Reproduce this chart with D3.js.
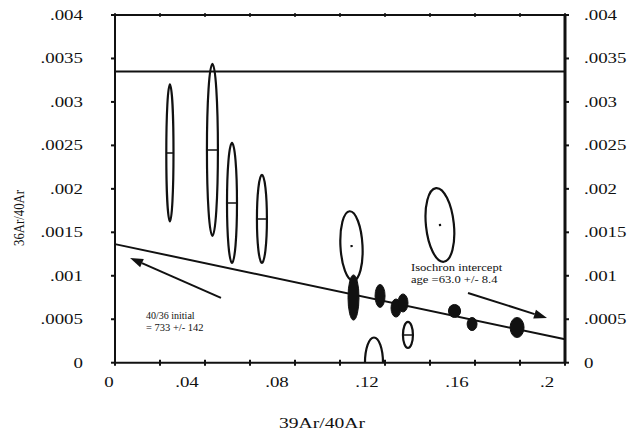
<!DOCTYPE html>
<html>
<head>
<meta charset="utf-8">
<script src="https://cdn.jsdelivr.net/npm/d3@7"></script>
<style>
  html, body { margin: 0; padding: 0; background: #fff; }
  svg { display: block; }
  text { font-family: "Liberation Serif", "Times New Roman", serif; fill: #111; }
</style>
</head>
<body>
<svg id="chart" width="641" height="440"></svg>
<script>
// Axis ticks and labels
const xTickValues = [0, 0.02, 0.04, 0.06, 0.08, 0.10, 0.12, 0.14, 0.16, 0.18, 0.20];
const xLabelValues = [0, 0.04, 0.08, 0.12, 0.16, 0.2];
const xLabelText = ["0", ".04", ".08", ".12", ".16", ".2"];
const yTickValues = [0, 0.0005, 0.001, 0.0015, 0.002, 0.0025, 0.003, 0.0035, 0.004];
const yLabelText = ["0", ".0005", ".001", ".0015", ".002", ".0025", ".003", ".0035", ".004"];

// Open error ellipses: centre (39Ar/40Ar, 36Ar/40Ar), half-widths, tilt in degrees
const openX    = [0.0244, 0.0433, 0.0520, 0.0653, 0.1051, 0.1444, 0.1302, 0.1151];
const openY    = [0.002413, 0.002448, 0.001838, 0.001654, 0.001343, 0.001585, 0.000319, 0.0000];
const openRx   = [0.00160, 0.00244, 0.00222, 0.00222, 0.00490, 0.00620, 0.00222, 0.00400];
const openRy   = [0.000788, 0.000990, 0.000690, 0.000506, 0.000400, 0.000426, 0.000150, 0.000290];
const openTilt = [0, 0, 0, 0, -3, -6, 0, 0];

// Filled error ellipses (steps on the isochron)
const solidX  = [0.1060, 0.1178, 0.1249, 0.1280, 0.1509, 0.1587, 0.1787];
const solidY  = [0.000750, 0.000768, 0.000629, 0.000687, 0.000595, 0.000445, 0.000405];
const solidRx = [0.00244, 0.00222, 0.00222, 0.00222, 0.00270, 0.00220, 0.00310];
const solidRy = [0.000260, 0.000132, 0.000104, 0.000104, 0.000075, 0.000075, 0.000115];

// Atmospheric 36Ar/40Ar reference level
const atmLevel = [0.00335];

// Isochron: 40/36 initial = 733 gives the y-intercept; x-intercept from the age
const isoYIntercept = [1 / 733];
const isoXIntercept = [0.2492];

// Annotation arrows (tail -> head) in data units
const arrowTail = [[0.0471, 0.000745], [0.1569, 0.000802]];
const arrowHead = [[0.0067, 0.001205], [0.1920, 0.000514]];

const svg = d3.select("#chart");
const plotLeft = 115, plotRight = 565, plotTop = 15, plotBottom = 362.7;

const x = d3.scaleLinear().domain([0, 0.2]).range([plotLeft, plotRight]);
const y = d3.scaleLinear().domain([0, 0.004]).range([plotBottom, plotTop]);

svg.append("defs").append("clipPath").attr("id", "plotClip")
  .append("rect").attr("x", plotLeft).attr("y", plotTop)
  .attr("width", plotRight - plotLeft).attr("height", plotBottom - plotTop);

// Text is set slightly wide, as in the original typeset figure
function wideText(g, px, py, str, size, anchor, sx) {
  return g.append("text")
    .attr("transform", `translate(${px},${py}) scale(${sx || 1.35},1)`)
    .attr("font-size", size)
    .attr("text-anchor", anchor || "start")
    .text(str);
}

// Atmospheric line
svg.append("line")
  .attr("x1", x(0)).attr("x2", x(0.2))
  .attr("y1", y(atmLevel[0])).attr("y2", y(atmLevel[0]))
  .attr("stroke", "#111").attr("stroke-width", 2);

// Isochron line
const slope = -isoYIntercept[0] / isoXIntercept[0];
svg.append("line")
  .attr("x1", x(0)).attr("y1", y(isoYIntercept[0]))
  .attr("x2", x(0.2)).attr("y2", y(isoYIntercept[0] + slope * 0.2))
  .attr("stroke", "#111").attr("stroke-width", 2);

const plot = svg.append("g").attr("clip-path", "url(#plotClip)");

const openData = openX.map((v, i) => ({ x: v, y: openY[i], rx: openRx[i], ry: openRy[i], tilt: openTilt[i] }));
const solidData = solidX.map((v, i) => ({ x: v, y: solidY[i], rx: solidRx[i], ry: solidRy[i] }));

const rxPx = d => x(d.x + d.rx) - x(d.x);
const ryPx = d => y(0) - y(d.ry);

const openG = plot.selectAll("g.open").data(openData).join("g")
  .attr("class", "open")
  .attr("transform", d => `translate(${x(d.x)},${y(d.y)}) rotate(${d.tilt})`);

openG.append("ellipse")
  .attr("rx", rxPx).attr("ry", ryPx)
  .attr("fill", "none").attr("stroke", "#111").attr("stroke-width", 2.2);

// centre marks: a bar across narrow ellipses, a dot inside wide ones
openG.filter(d => rxPx(d) < 8).append("line")
  .attr("x1", d => -rxPx(d)).attr("x2", d => rxPx(d))
  .attr("y1", 0).attr("y2", 0)
  .attr("stroke", "#111").attr("stroke-width", 1.5);
openG.filter(d => rxPx(d) >= 8 && d.y > 0).append("rect")
  .attr("x", -1).attr("y", -1).attr("width", 2.2).attr("height", 2.2)
  .attr("fill", "#111");

plot.selectAll("ellipse.solid").data(solidData).join("ellipse")
  .attr("class", "solid")
  .attr("cx", d => x(d.x)).attr("cy", d => y(d.y))
  .attr("rx", rxPx).attr("ry", ryPx)
  .attr("fill", "#111").attr("stroke", "#111").attr("stroke-width", 1);

// Frame
svg.append("line").attr("x1", plotLeft).attr("x2", plotRight).attr("y1", plotTop).attr("y2", plotTop)
  .attr("stroke", "#111").attr("stroke-width", 2);
svg.append("line").attr("x1", plotLeft).attr("x2", plotRight).attr("y1", plotBottom).attr("y2", plotBottom)
  .attr("stroke", "#111").attr("stroke-width", 2);
svg.append("line").attr("x1", plotLeft).attr("x2", plotLeft).attr("y1", plotTop).attr("y2", plotBottom)
  .attr("stroke", "#111").attr("stroke-width", 2);
svg.append("line").attr("x1", plotRight).attr("x2", plotRight).attr("y1", plotTop).attr("y2", plotBottom)
  .attr("stroke", "#111").attr("stroke-width", 3);

// Ticks
svg.selectAll("line.ytl").data(yTickValues).join("line").attr("class", "ytl")
  .attr("x1", plotLeft - 4).attr("x2", plotLeft).attr("y1", d => y(d)).attr("y2", d => y(d))
  .attr("stroke", "#111").attr("stroke-width", 2);
svg.selectAll("line.ytr").data(yTickValues).join("line").attr("class", "ytr")
  .attr("x1", plotRight).attr("x2", plotRight + 4).attr("y1", d => y(d)).attr("y2", d => y(d))
  .attr("stroke", "#111").attr("stroke-width", 2);
svg.selectAll("line.xtb").data(xTickValues).join("line").attr("class", "xtb")
  .attr("x1", d => x(d)).attr("x2", d => x(d)).attr("y1", plotBottom - 3).attr("y2", plotBottom + 3)
  .attr("stroke", "#111").attr("stroke-width", 2);
svg.selectAll("line.xtt").data(xTickValues).join("line").attr("class", "xtt")
  .attr("x1", d => x(d)).attr("x2", d => x(d)).attr("y1", plotTop - 2).attr("y2", plotTop + 2)
  .attr("stroke", "#111").attr("stroke-width", 1.5);

// Tick labels
const labels = svg.append("g");
yTickValues.forEach((v, i) => {
  wideText(labels, 83, y(v) + 5, yLabelText[i], 14, "end");
  wideText(labels, 584, y(v) + 5, yLabelText[i], 14, "start");
});
xLabelValues.forEach((v, i) => {
  const dx = i === 0 ? -6 : -18;
  wideText(labels, x(v) + dx, 387, xLabelText[i], 14, "middle");
});

// Axis titles
wideText(svg, 322, 428, "39Ar/40Ar", 14, "middle", 1.4);
svg.append("text")
  .attr("transform", `translate(24,218) rotate(-90)`)
  .attr("font-size", 15)
  .attr("text-anchor", "middle")
  .attr("textLength", 56).attr("lengthAdjust", "spacingAndGlyphs")
  .text("36Ar/40Ar");

// Annotation arrows
const arrowG = svg.append("g");
arrowTail.forEach((t, i) => {
  const h = arrowHead[i];
  const x1 = x(t[0]), y1 = y(t[1]), x2 = x(h[0]), y2 = y(h[1]);
  const ang = Math.atan2(y2 - y1, x2 - x1);
  const len = 13, half = 4.5;
  const bx = x2 - len * Math.cos(ang), by = y2 - len * Math.sin(ang);
  arrowG.append("line").attr("x1", x1).attr("y1", y1).attr("x2", bx).attr("y2", by)
    .attr("stroke", "#111").attr("stroke-width", 2);
  const p = [
    [x2, y2],
    [bx + half * Math.sin(ang), by - half * Math.cos(ang)],
    [bx - half * Math.sin(ang), by + half * Math.cos(ang)]
  ];
  arrowG.append("path").attr("d", d3.line()(p) + "Z").attr("fill", "#111");
});

// Annotation text
wideText(svg, 146, 319, "40/36 initial", 10, "start", 1.0);
wideText(svg, 146, 331, "= 733 +/- 142", 10, "start", 1.05);
wideText(svg, 411, 271, "Isochron intercept", 10.5, "start", 1.2);
wideText(svg, 411, 283, "age =63.0 +/- 8.4", 10.5, "start", 1.2);
</script>
</body>
</html>
